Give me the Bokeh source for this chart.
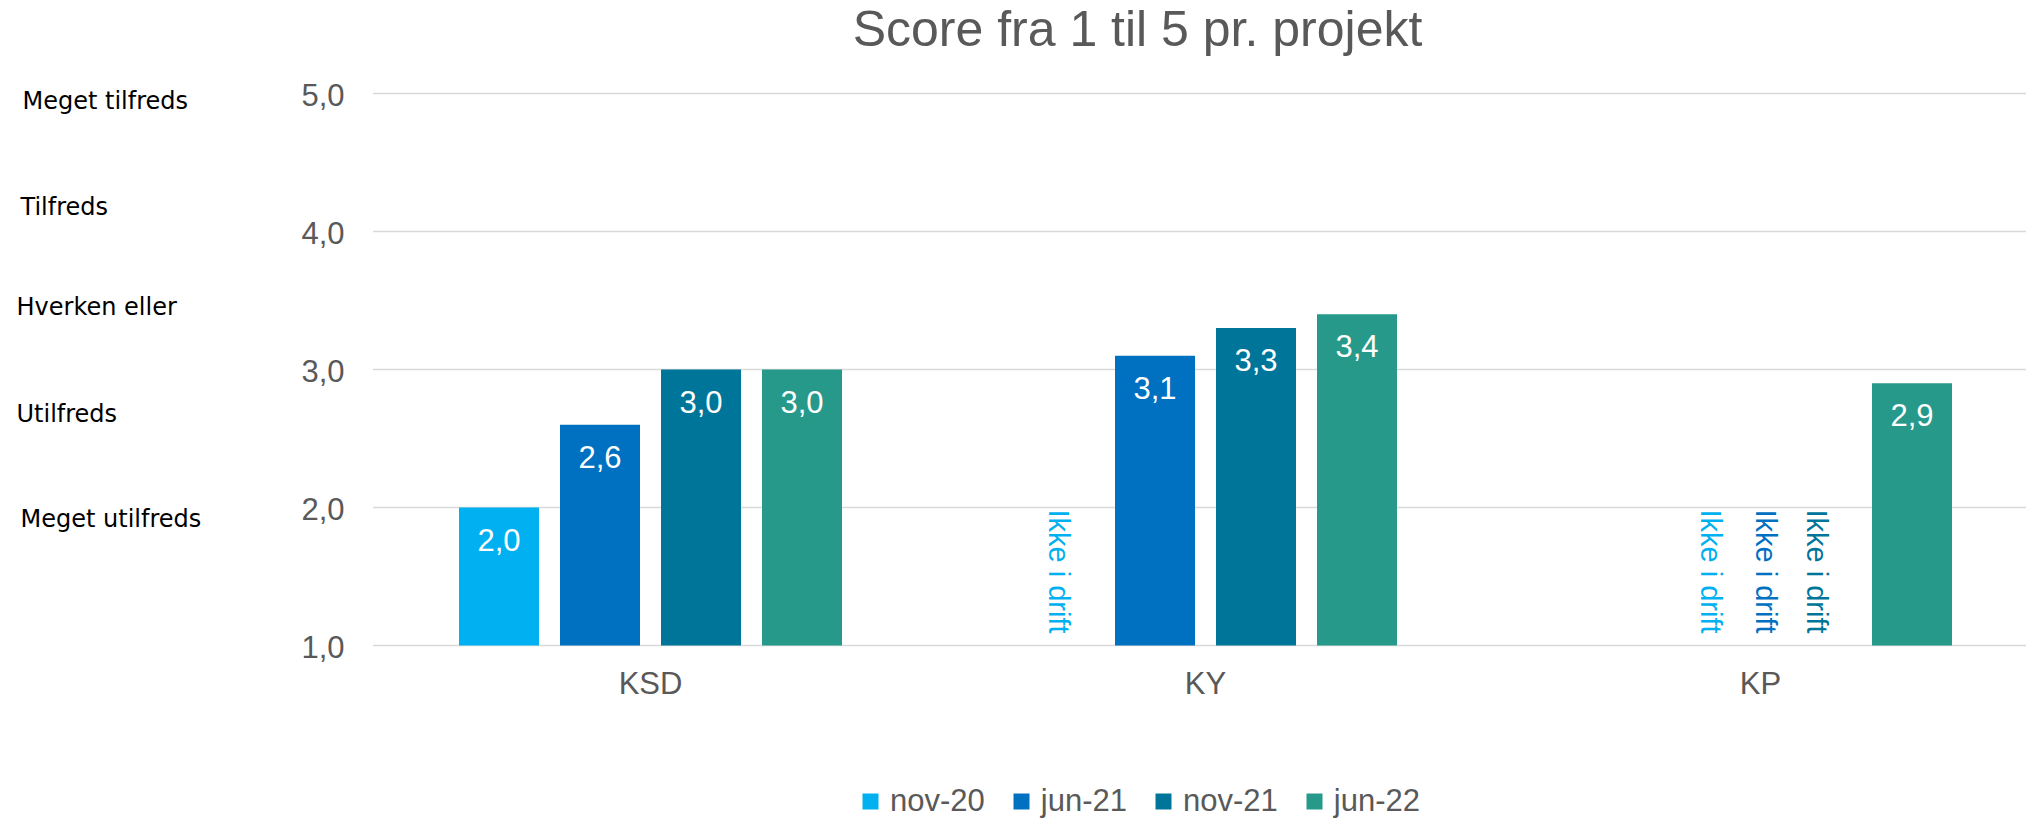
import math
from bokeh.plotting import figure
from bokeh.models import ColumnDataSource, Range1d, Legend, LegendItem
from bokeh.core.properties import value
from bokeh.embed import file_html
from bokeh.resources import INLINE

# ---------------- data ----------------
title_text = "Score fra 1 til 5 pr. projekt"
categories = ["KSD", "KY", "KP"]
series_names = ["nov-20", "jun-21", "nov-21", "jun-22"]
nov_20 = [2.0, None, None]
jun_21 = [2.6, 3.1, None]
nov_21 = [3.0, 3.3, None]
jun_22 = [3.0, 3.4, 2.9]
y_ticks = [1, 2, 3, 4, 5]
y_tick_labels = ["1,0", "2,0", "3,0", "4,0", "5,0"]
scale_labels = ["Meget tilfreds", "Tilfreds", "Hverken eller", "Utilfreds", "Meget utilfreds"]
missing_label = "Ikke i drift"

series_values = [nov_20, jun_21, nov_21, jun_22]
colors = ["#00B0F0", "#0070C0", "#00759A", "#26998A"]

# ---------------- layout (page pixels) ----------------
W, H = 2026, 819
X0_PAGE, PX_PER_CAT = 372.5, 555.0
Y1_PAGE, PX_PER_UNIT = 645.0, 138.0
BAR_W_PX, BAR_STEP_PX = 80.0, 101.0


def xd(px):
    return (px - X0_PAGE) / PX_PER_CAT


def yd(py):
    return 1 + (Y1_PAGE - py) / PX_PER_UNIT


ARIAL_NAME = "Liberation Sans"
ARIAL = value(ARIAL_NAME)
GREY = "#595959"

p = figure(width=W, height=H,
           x_range=Range1d(xd(0), xd(W)),
           y_range=Range1d(yd(H), yd(0)),
           output_backend="svg", toolbar_location=None,
           x_axis_location=None, y_axis_location=None, min_border=0)
p.grid.visible = False
p.outline_line_color = None
p.background_fill_color = "white"
p.border_fill_color = "white"

# gridlines at y ticks
n_cat = len(categories)
p.segment(x0=[0] * len(y_ticks), x1=[n_cat] * len(y_ticks), y0=y_ticks, y1=y_ticks,
          line_color="#D9D9D9", line_width=1.5)

bar_w = BAR_W_PX / PX_PER_CAT
step = BAR_STEP_PX / PX_PER_CAT
ns = len(series_names)

# pixel nudges for the "Ikke i drift" labels (category index, series index)
missing_nudge = {(1, 0): 5, (2, 0): 102, (2, 1): 56, (2, 2): 5.5}
MISSING_Y = 2.0

legend_items = []
for j, (name, vals, col) in enumerate(zip(series_names, series_values, colors)):
    off = (j - (ns - 1) / 2) * step
    xs, ys, labs = [], [], []
    mx, mnudge = [], []
    for i, v in enumerate(vals):
        if v is None:
            mx.append(i + 0.5 + off)
            mnudge.append(missing_nudge.get((i, j), 0))
        else:
            xs.append(i + 0.5 + off)
            ys.append(v)
            labs.append(f"{v:.1f}".replace(".", ","))
    src = ColumnDataSource(dict(x=xs, top=ys, lab=labs))
    p.vbar(x="x", top="top", bottom=1, width=bar_w, source=src,
           fill_color=col, line_color=None)
    p.text(x="x", y="top", text="lab", source=src, text_color="white",
           text_font=ARIAL, text_font_size="31px", text_align="center",
           text_baseline="middle", y_offset=32)
    if mx:
        msrc = ColumnDataSource(dict(x=mx, y=[MISSING_Y] * len(mx),
                                     t=[missing_label] * len(mx), xo=mnudge))
        p.text(x="x", y="y", text="t", source=msrc, x_offset="xo", y_offset=2,
               angle=-math.pi / 2, text_color=col, text_font=ARIAL,
               text_font_size="29px", text_align="left", text_baseline="middle")
    # legend swatch: square marker renderer on the same data (zero size in the plot)
    lr = p.scatter(x="x", y="top", source=src, marker="square", size=0,
                   fill_color=col, line_color=None)
    legend_items.append(LegendItem(label=name, renderers=[lr]))

# y tick labels
p.text(x=[0] * len(y_ticks), y=y_ticks, text=y_tick_labels, x_offset=-28.5, y_offset=1,
       text_align="right", text_baseline="middle", text_color=GREY,
       text_font=ARIAL, text_font_size="31px")

# category labels
p.text(x=[i + 0.5 for i in range(n_cat)], y=[1] * n_cat, text=categories, y_offset=38,
       text_align="center", text_baseline="middle", text_color=GREY,
       text_font=ARIAL, text_font_size="31px")

# title
p.text(x=[xd(1137)], y=[yd(28)], text=[title_text], text_align="center",
       text_baseline="middle", text_color=GREY, text_font=ARIAL,
       text_font_size="50px")

# satisfaction scale labels at the left
scale_x_page = [22, 20, 16, 16, 20]
scale_mid_page = [100.5, 206.5, 306, 413.5, 518.5]
p.text(x=[xd(v) for v in scale_x_page], y=[yd(v) for v in scale_mid_page],
       text=scale_labels, text_align="left", text_baseline="middle",
       text_color="black", text_font=value("DejaVu Sans"), text_font_size="24px")

legend = Legend(items=legend_items, orientation="horizontal", location=(850, -2),
                glyph_width=40, glyph_height=40, label_standoff=-5, spacing=16,
                padding=0, margin=0, border_line_color=None, background_fill_alpha=0,
                label_text_font=ARIAL_NAME, label_text_font_size="31px",
                label_text_color=GREY, label_text_baseline="middle")
p.add_layout(legend)

open("out.html", "w").write(file_html(p, INLINE))
